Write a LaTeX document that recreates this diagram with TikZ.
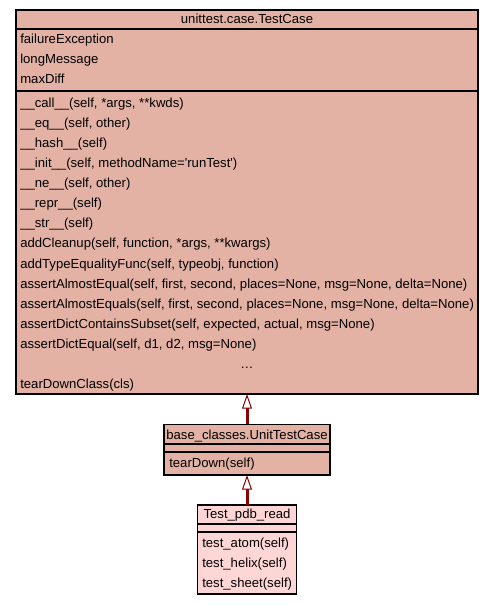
\documentclass[tikz,border=0pt]{standalone}
\usepackage{fontspec}
\setmainfont{Liberation Sans}
\usetikzlibrary{arrows.meta}
\definecolor{basefill}{RGB}{227,178,165}
\definecolor{leaffill}{RGB}{255,214,214}
\definecolor{inheritline}{RGB}{139,0,0}
\tikzset{
  classbox/.style={draw=black, line width=0.9pt, inner sep=0pt, outer sep=0pt},
  divider/.style={line width=1.5pt},
  member/.style={anchor=base west, inner sep=0pt, font=\fontsize{9.85}{11}\selectfont},
  classname/.style={anchor=base, inner sep=0pt, font=\fontsize{9.85}{11}\selectfont},
  inherit/.style={draw=inheritline, line width=2.25pt,
    -{Triangle[open, fill=white, length=11pt, width=7.5pt, line width=0.75pt]}}
}
\begin{document}
\begin{tikzpicture}[x=0.75pt, y=-0.75pt]
	\useasboundingbox[fill=white] (0,0) rectangle (493,605);
	% unittest.case.TestCase
	\node[classbox, fill=basefill, minimum width=346.5pt, minimum height=288pt] (testcase) at (247,202) {};
	\node[classname] (testcase-name) at (247,24) {unittest.case.TestCase};
	\draw[divider] (testcase.west |- 0,29.5) -- (testcase.east |- 0,29.5);
	\draw[divider] (testcase.west |- 0,91) -- (testcase.east |- 0,91);
	\foreach \txt [count=\i] in {failureException, longMessage, maxDiff}
		\node[member] (testcase-attr\i) at (20,24+20*\i) {\txt};
	\foreach \txt [count=\i] in {
		{\_\_call\_\_(self, *args, **kwds)},
		{\_\_eq\_\_(self, other)},
		{\_\_hash\_\_(self)},
		{\_\_init\_\_(self, methodName=\textquotesingle runTest\textquotesingle)},
		{\_\_ne\_\_(self, other)},
		{\_\_repr\_\_(self)},
		{\_\_str\_\_(self)},
		{addCleanup(self, function, *args, **kwargs)},
		{addTypeEqualityFunc(self, typeobj, function)},
		{assertAlmostEqual(self, first, second, places=None, msg=None, delta=None)},
		{assertAlmostEquals(self, first, second, places=None, msg=None, delta=None)},
		{assertDictContainsSubset(self, expected, actual, msg=None)},
		{assertDictEqual(self, d1, d2, msg=None)}}
		\node[member] (testcase-op\i) at (20,88+20*\i) {\txt};
	\node[classname] (testcase-more) at (247,368) {\dots};
	\node[member] (testcase-last) at (20,388) {tearDownClass(cls)};

	% base_classes.UnitTestCase
	\node[classbox, fill=basefill, minimum width=124.5pt, minimum height=37.9pt] (unittestcase) at (247,449.75) {};
	\node[classname] (unittestcase-name) at (247,439) {base\_classes.UnitTestCase};
	\draw[divider] (unittestcase.west |- 0,443.5) -- (unittestcase.east |- 0,443.5);
	\draw[divider] (unittestcase.west |- 0,451.5) -- (unittestcase.east |- 0,451.5);
	\node[member] (unittestcase-op1) at (169,467) {tearDown(self)};

	% Test_pdb_read
	\node[classbox, fill=leaffill, minimum width=74.25pt, minimum height=66.75pt] (pdbread) at (247,549.5) {};
	\node[classname] (pdbread-name) at (247,518) {Test\_pdb\_read};
	\draw[divider] (pdbread.west |- 0,523.5) -- (pdbread.east |- 0,523.5);
	\draw[divider] (pdbread.west |- 0,531.5) -- (pdbread.east |- 0,531.5);
	\foreach \txt [count=\i] in {atom, helix, sheet}
		\node[member] (pdbread-op\i) at (202,527+20*\i) {test\_\txt(self)};

	% inheritance
	\draw[inherit] (pdbread) -- (unittestcase);
	\draw[inherit] (unittestcase) -- (testcase);
\end{tikzpicture}
\end{document}
